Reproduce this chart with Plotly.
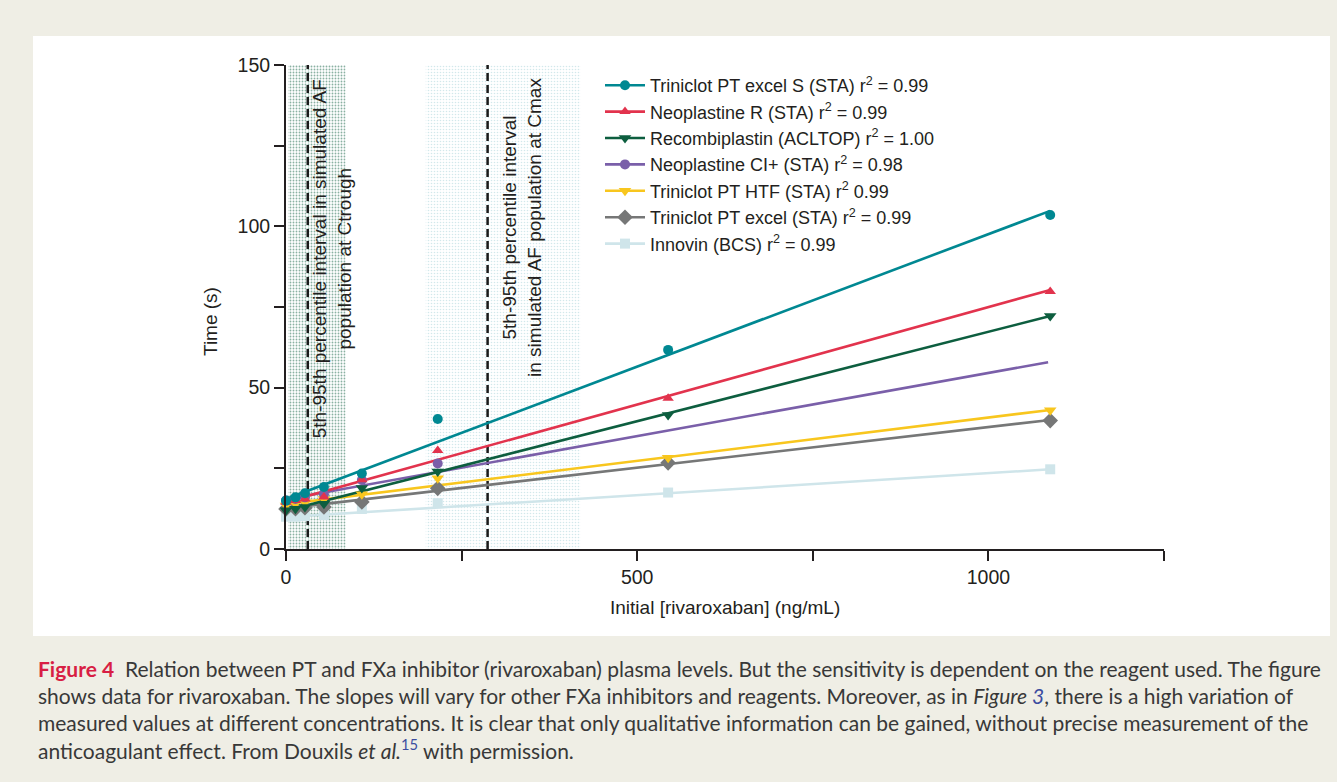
import plotly.graph_objects as go

# ---------------- data ----------------
conc = [0, 13.5, 27, 54, 108, 216, 544, 1088]

series_names = [
    "Triniclot PT excel S (STA) r<sup>2</sup> = 0.99",
    "Neoplastine R (STA) r<sup>2</sup> = 0.99",
    "Recombiplastin (ACLTOP) r<sup>2</sup> = 1.00",
    "Neoplastine CI+ (STA) r<sup>2</sup> = 0.98",
    "Triniclot PT HTF (STA) r<sup>2</sup> 0.99",
    "Triniclot PT excel (STA) r<sup>2</sup> = 0.99",
    "Innovin (BCS) r<sup>2</sup> = 0.99",
]
series_colors = ["#008892", "#e2334d", "#0d5e3f", "#7a5fa9", "#f8c61e", "#767777", "#cfe5ea"]
series_symbols = ["circle", "triangle-up", "triangle-down", "circle", "triangle-down", "diamond", "square"]

triniclot_s = [15.0, 16.0, 17.3, 19.2, 23.4, 40.3, 61.7, 103.5]
neoplastine_r = [14.5, 15.0, 15.5, 16.1, 21.5, 30.5, 46.7, 79.8]
recombiplastin = [12.0, 12.5, 13.0, 14.0, 18.9, 24.0, 41.5, 72.2]
neoplastine_ci = [15.0, 15.5, 16.0, 17.0, 21.4, 26.5, None, None]
triniclot_htf = [13.5, 14.0, 14.5, 15.5, 17.0, 21.9, 28.3, 43.0]
triniclot_excel = [12.4, 12.5, 12.8, 13.0, 14.6, 18.8, 26.7, 39.8]
innovin = [10.0, 10.0, 10.2, 10.5, 12.4, 14.2, 17.5, 24.7]
series_values = [triniclot_s, neoplastine_r, recombiplastin, neoplastine_ci,
                 triniclot_htf, triniclot_excel, innovin]

# fitted regression lines: x start/end and y start/end
fit_x_start = [0, 0, 0, 0, 0, 0, 0]
fit_x_end = [1088, 1088, 1088, 1085, 1088, 1088, 1088]
fit_y_start = [15.5, 14.6, 11.9, 15.4, 13.9, 12.6, 9.9]
fit_y_end = [104.8, 80.3, 72.2, 57.9, 43.1, 40.0, 24.7]

# percentile bands and median lines (ng/mL)
trough_band = [3, 85]
cmax_band = [199, 419]
dashed_lines = [31, 287]
band_top = 150

x_tickvals = [0, 250, 500, 750, 1000, 1250]
x_ticktext = ["0", "", "500", "", "1000", ""]
y_tickvals = [0, 25, 50, 75, 100, 125, 150]
y_ticktext = ["0", "", "50", "", "100", "", "150"]

trough_label = "5th-95th percentile interval in simulated AF<br>population at Ctrough"
cmax_label = "5th-95th percentile interval<br>in simulated AF population at Cmax"

caption_lines = [
    "<b><span style='color:#d81e44'>Figure 4</span></b>  Relation between PT and FXa inhibitor (rivaroxaban) plasma levels. But the sensitivity is dependent on the reagent used. The figure",
    "shows data for rivaroxaban. The slopes will vary for other FXa inhibitors and reagents. Moreover, as in <i>Figure <span style='color:#3b4ca0'>3</span></i>, there is a high variation of",
    "measured values at different concentrations. It is clear that only qualitative information can be gained, without precise measurement of the",
    "anticoagulant effect. From Douxils <i>et al.</i><sup><span style='color:#3b4ca0'>15</span></sup> with permission.",
]

# ---------------- figure ----------------
FONT = "Liberation Sans, Arial, sans-serif"
AXC = "#231f20"
W, H = 1337, 782
L, R, T, B = 286, 173, 65, 233

fig = go.Figure()

# bands
for band, fg, sol in [(trough_band, "#156445", 0.3), (cmax_band, "#a6d2d7", 0.22)]:
    fig.add_trace(go.Scatter(
        x=[band[0], band[1], band[1], band[0], band[0]],
        y=[0, 0, band_top, band_top, 0],
        mode="lines", line=dict(width=0), fill="toself",
        fillcolor="rgba(0,0,0,0)",
        fillpattern=dict(shape=".", fgcolor=fg, bgcolor="white", size=3, solidity=sol),
        hoverinfo="skip", showlegend=False,
    ))

# dashed lines
for xv in dashed_lines:
    fig.add_trace(go.Scatter(
        x=[xv, xv], y=[0, band_top], mode="lines",
        line=dict(color="#1a1a1a", width=2.5, dash="8px,4px"),
        hoverinfo="skip", showlegend=False,
    ))

# fit lines (back to front, light first)
order = list(range(len(series_names)))[::-1]
for i in order:
    fig.add_trace(go.Scatter(
        x=[fit_x_start[i], fit_x_end[i]], y=[fit_y_start[i], fit_y_end[i]],
        mode="lines", line=dict(color=series_colors[i], width=2.6),
        showlegend=False, hoverinfo="skip", cliponaxis=False,
    ))

# data markers
msize = {"circle": 10, "triangle-up": 10, "triangle-down": 11, "diamond": 12, "square": 10}
for i in order:
    fig.add_trace(go.Scatter(
        x=conc, y=series_values[i], mode="markers",
        marker=dict(symbol=series_symbols[i], size=msize[series_symbols[i]],
                    color=series_colors[i], line=dict(width=0)),
        showlegend=False, cliponaxis=False, name=series_names[i],
    ))

# legend entries
for i in range(len(series_names)):
    fig.add_trace(go.Scatter(
        x=[None], y=[None], mode="lines+markers", name=series_names[i],
        line=dict(color=series_colors[i], width=2.6),
        marker=dict(symbol=series_symbols[i], size=msize[series_symbols[i]],
                    color=series_colors[i]),
    ))

# white panel
fig.add_shape(type="rect", xref="paper", yref="paper",
              xsizemode="pixel", ysizemode="pixel", xanchor=0, yanchor=0,
              x0=33 - L, x1=1330 - L, y0=-(636 - (H - B)), y1=(H - B) - 36,
              fillcolor="white", line=dict(width=0), layer="below")

# band labels
fig.add_annotation(x=65, y=90, xref="x", yref="y", text=trough_label, textangle=-90,
                   showarrow=False, align="center",
                   font=dict(family=FONT, size=19, color=AXC))
fig.add_annotation(x=336, y=99.5, xref="x", yref="y", text=cmax_label, textangle=-90,
                   showarrow=False, align="center",
                   font=dict(family=FONT, size=19, color=AXC))

# axis titles
fig.add_annotation(x=0, y=0.5, xref="paper", yref="paper", xanchor="center", yanchor="middle",
                   xshift=210 - L, yshift=-15,
                   text="Time (s)", textangle=-90, showarrow=False,
                   font=dict(family=FONT, size=19, color=AXC))
fig.add_annotation(x=0.5, y=0, xref="paper", yref="paper", xanchor="center", yanchor="middle",
                   yshift=-58,
                   text="Initial [rivaroxaban] (ng/mL)", showarrow=False,
                   font=dict(family=FONT, size=19, color=AXC))

# caption
for k, line in enumerate(caption_lines):
    fig.add_annotation(x=0, y=0, xref="paper", yref="paper", xanchor="left", yanchor="middle",
                       xshift=36 - L, yshift=-(119 + 27 * k), text=line, showarrow=False,
                       align="left", font=dict(family="Lato, sans-serif", size=21, color="#383838"))

axis_common = dict(showline=True, linewidth=2, linecolor=AXC, ticks="outside", ticklen=10,
                   tickwidth=2, tickcolor=AXC, showgrid=False, zeroline=False,
                   tickfont=dict(family=FONT, size=19.5, color=AXC))

fig.update_layout(
    width=W, height=H,
    margin=dict(l=L, r=R, t=T, b=B),
    paper_bgcolor="#efeee5", plot_bgcolor="white",
    xaxis=dict(range=[0, 1250], tickvals=x_tickvals, ticktext=x_ticktext, **axis_common),
    yaxis=dict(range=[0, 150], tickvals=y_tickvals, ticktext=y_ticktext, **axis_common),
    legend=dict(x=(600 - L) / (W - L - R), y=(H - B - 67) / (H - T - B), xanchor="left", yanchor="top",
                bgcolor="rgba(0,0,0,0)", font=dict(family=FONT, size=18, color=AXC),
                tracegroupgap=0, itemwidth=40),
    showlegend=True,
)

fig.write_html("out.html", config={"displayModeBar": False},
               post_script="document.body.style.margin='0px';")
